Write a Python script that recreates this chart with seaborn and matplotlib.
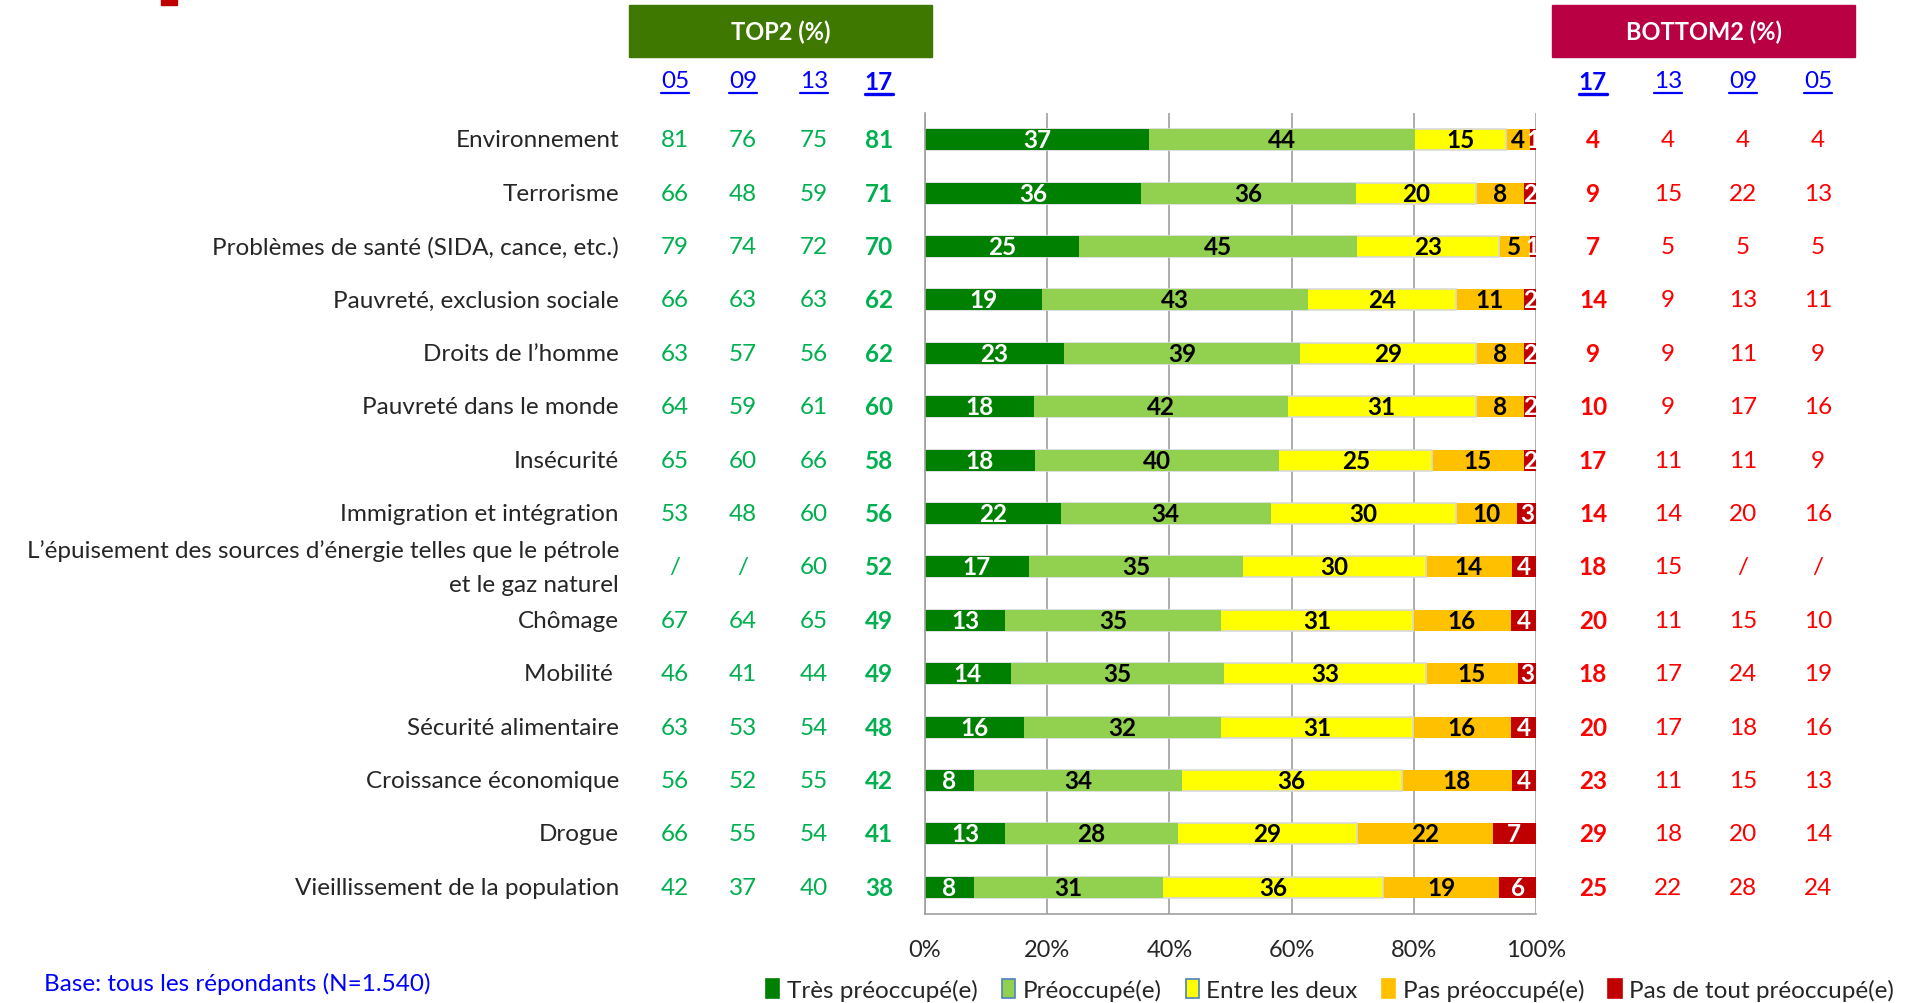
import numpy as np
import pandas as pd
import matplotlib
matplotlib.use("Agg")
import matplotlib.pyplot as plt
import matplotlib.transforms as mtransforms
from matplotlib.patches import Rectangle, Patch
from matplotlib.lines import Line2D
import seaborn as sns

# Data
categories = [
    "Environnement",
    "Terrorisme",
    "Problèmes de santé (SIDA, cance, etc.)",
    "Pauvreté, exclusion sociale",
    "Droits de l’homme",
    "Pauvreté dans le monde",
    "Insécurité",
    "Immigration et intégration",
    "L’épuisement des sources d’énergie telles que le pétrole\net le gaz naturel",
    "Chômage",
    "Mobilité ",
    "Sécurité alimentaire",
    "Croissance économique",
    "Drogue",
    "Vieillissement de la population",
]
tres = [37, 36, 25, 19, 23, 18, 18, 22, 17, 13, 14, 16, 8, 13, 8]
preoc = [44, 36, 45, 43, 39, 42, 40, 34, 35, 35, 35, 32, 34, 28, 31]
entre = [15, 20, 23, 24, 29, 31, 25, 30, 30, 31, 33, 31, 36, 29, 36]
pas = [4, 8, 5, 11, 8, 8, 15, 10, 14, 16, 15, 16, 18, 22, 19]
pas_tout = [1, 2, 1, 2, 2, 2, 2, 3, 4, 4, 3, 4, 4, 7, 6]

top2_05 = [81, 66, 79, 66, 63, 64, 65, 53, None, 67, 46, 63, 56, 66, 42]
top2_09 = [76, 48, 74, 63, 57, 59, 60, 48, None, 64, 41, 53, 52, 55, 37]
top2_13 = [75, 59, 72, 63, 56, 61, 66, 60, 60, 65, 44, 54, 55, 54, 40]
top2_17 = [81, 71, 70, 62, 62, 60, 58, 56, 52, 49, 49, 48, 42, 41, 38]
bot2_17 = [4, 9, 7, 14, 9, 10, 17, 14, 18, 20, 18, 20, 23, 29, 25]
bot2_13 = [4, 15, 5, 9, 9, 9, 11, 14, 15, 11, 17, 17, 11, 18, 22]
bot2_09 = [4, 22, 5, 13, 11, 17, 11, 20, None, 15, 24, 18, 15, 20, 28]
bot2_05 = [4, 13, 5, 11, 9, 16, 9, 16, None, 10, 19, 16, 13, 14, 24]

series_names = ["Très préoccupé(e)", "Préoccupé(e)", "Entre les deux",
                "Pas préoccupé(e)", "Pas de tout préoccupé(e)"]
series_colors = ["#008000", "#92D050", "#FFFF00", "#FFC000", "#C00000"]
label_colors = ["white", "black", "black", "black", "white"]

sns.set_style("white")
FONT = "Lato"
plt.rcParams["font.family"] = [FONT, "DejaVu Sans"]
FS = 17.5

# 100% stacked data
raw = np.array([tres, preoc, entre, pas, pas_tout], dtype=float)
pct = raw / raw.sum(axis=0) * 100
cum = np.cumsum(pct, axis=0)

W, H = 1927, 1004
fig = plt.figure(figsize=(W / 100, H / 100), dpi=100)
ax = fig.add_axes([925 / W, 1 - 915 / H, (1536 - 925) / W, (915 - 114) / H])

# stacked bars by overlaying cumulative sums (largest first)
for k in range(4, -1, -1):
    df = pd.DataFrame({"cat": categories, "val": cum[k]})
    sns.barplot(data=df, x="val", y="cat", order=categories, orient="h",
                color=series_colors[k], saturation=1, width=0.39, ax=ax,
                edgecolor="#D9D9D9" if k == 2 else "none",
                linewidth=1.2 if k == 2 else 0)

# segment labels
for i in range(len(categories)):
    for k in range(5):
        centre = cum[k, i] - pct[k, i] / 2
        ax.text(centre, i, str(int(raw[k, i])), ha="center", va="center",
                fontsize=FS, fontweight="bold", color=label_colors[k],
                clip_on=True)

ax.set_xlim(0, 100)
ax.set_ylim(len(categories) - 0.5, -0.5)
ax.set_xticks([0, 20, 40, 60, 80, 100])
ax.set_xticklabels([f"{t}%" for t in [0, 20, 40, 60, 80, 100]], fontsize=17)
ax.set_yticks([])
ax.set_xlabel("")
ax.set_ylabel("")
ax.set_axisbelow(True)
ax.grid(axis="x", color="#A0A0A0", linewidth=1.2)
ax.tick_params(axis="x", length=4, width=1, color="#A0A0A0", pad=14)
for side in ["top", "right"]:
    ax.spines[side].set_visible(False)
for side in ["left", "bottom"]:
    ax.spines[side].set_color("#A0A0A0")
    ax.spines[side].set_linewidth(1.2)

# category labels and year columns (figure x, data y)
trans = mtransforms.blended_transform_factory(fig.transFigure, ax.transData)
for i, cat in enumerate(categories):
    ax.text(619 / W, i, cat, transform=trans, ha="right", va="center",
            fontsize=FS, multialignment="right", linespacing=1.8)

top_cols = [(675, top2_05, False), (743, top2_09, False),
            (814, top2_13, False), (879, top2_17, True)]
bot_cols = [(1593, bot2_17, True), (1668, bot2_13, False),
            (1743, bot2_09, False), (1818, bot2_05, False)]
for cols, color in [(top_cols, "#00B050"), (bot_cols, "#FF0000")]:
    for x, vals, bold in cols:
        for i, v in enumerate(vals):
            ax.text(x / W, i, "/" if v is None else str(v), transform=trans,
                    ha="center", va="center", fontsize=FS, color=color,
                    fontweight="bold" if bold else "normal")

# header boxes
fig.patches.append(Rectangle((629 / W, 1 - 58 / H), 303 / W, 52 / H,
                             transform=fig.transFigure, color="#3F7800"))
fig.patches.append(Rectangle((1552 / W, 1 - 58 / H), 303 / W, 52 / H,
                             transform=fig.transFigure, color="#B80043"))
fig.patches.append(Rectangle((161 / W, 1 - 6 / H), 16 / W, 6 / H,
                             transform=fig.transFigure, color="#C00000"))
fig.text(780.5 / W, 1 - 32 / H, "TOP2 (%)", ha="center", va="center",
         color="white", fontsize=17, fontweight="bold")
fig.text(1703.5 / W, 1 - 32 / H, "BOTTOM2 (%)", ha="center", va="center",
         color="white", fontsize=17, fontweight="bold")

# year headers, underlined
years_top = ["05", "09", "13", "17"]
years_bot = ["17", "13", "09", "05"]
year_texts = []
for (x, _, bold), yr in zip(top_cols + bot_cols, years_top + years_bot):
    t = fig.text(x / W, 1 - 82 / H, yr, ha="center", va="center",
                 color="#0000FF", fontsize=FS,
                 fontweight="bold" if bold else "normal")
    year_texts.append((t, bold))

fig.text(44 / W, 1 - 984 / H, "Base: tous les répondants (N=1.540)",
         ha="left", va="center", color="#0000FF", fontsize=FS)

# legend
handles = []
for k in range(5):
    ec = "#4F81BD" if k in (1, 2) else series_colors[k]
    handles.append(Patch(facecolor=series_colors[k], edgecolor=ec,
                         linewidth=1.2, label=series_names[k]))
fig.legend(handles=handles, loc="center", ncol=5,
           bbox_to_anchor=((755 + 1905) / 2 / W, 1 - 991 / H),
           frameon=False, fontsize=FS, handlelength=0.55, handleheight=0.85,
           handletextpad=0.3, columnspacing=1.0)

fig.canvas.draw()
renderer = fig.canvas.get_renderer()
for t, bold in year_texts:
    bb = t.get_window_extent(renderer).transformed(fig.transFigure.inverted())
    yline = bb.y0 - 1 / H
    fig.add_artist(Line2D([bb.x0, bb.x1], [yline, yline], color="#0000FF",
                          linewidth=2.4 if bold else 1.6,
                          transform=fig.transFigure))

plt.savefig("out.png", dpi=100)
plt.close()
